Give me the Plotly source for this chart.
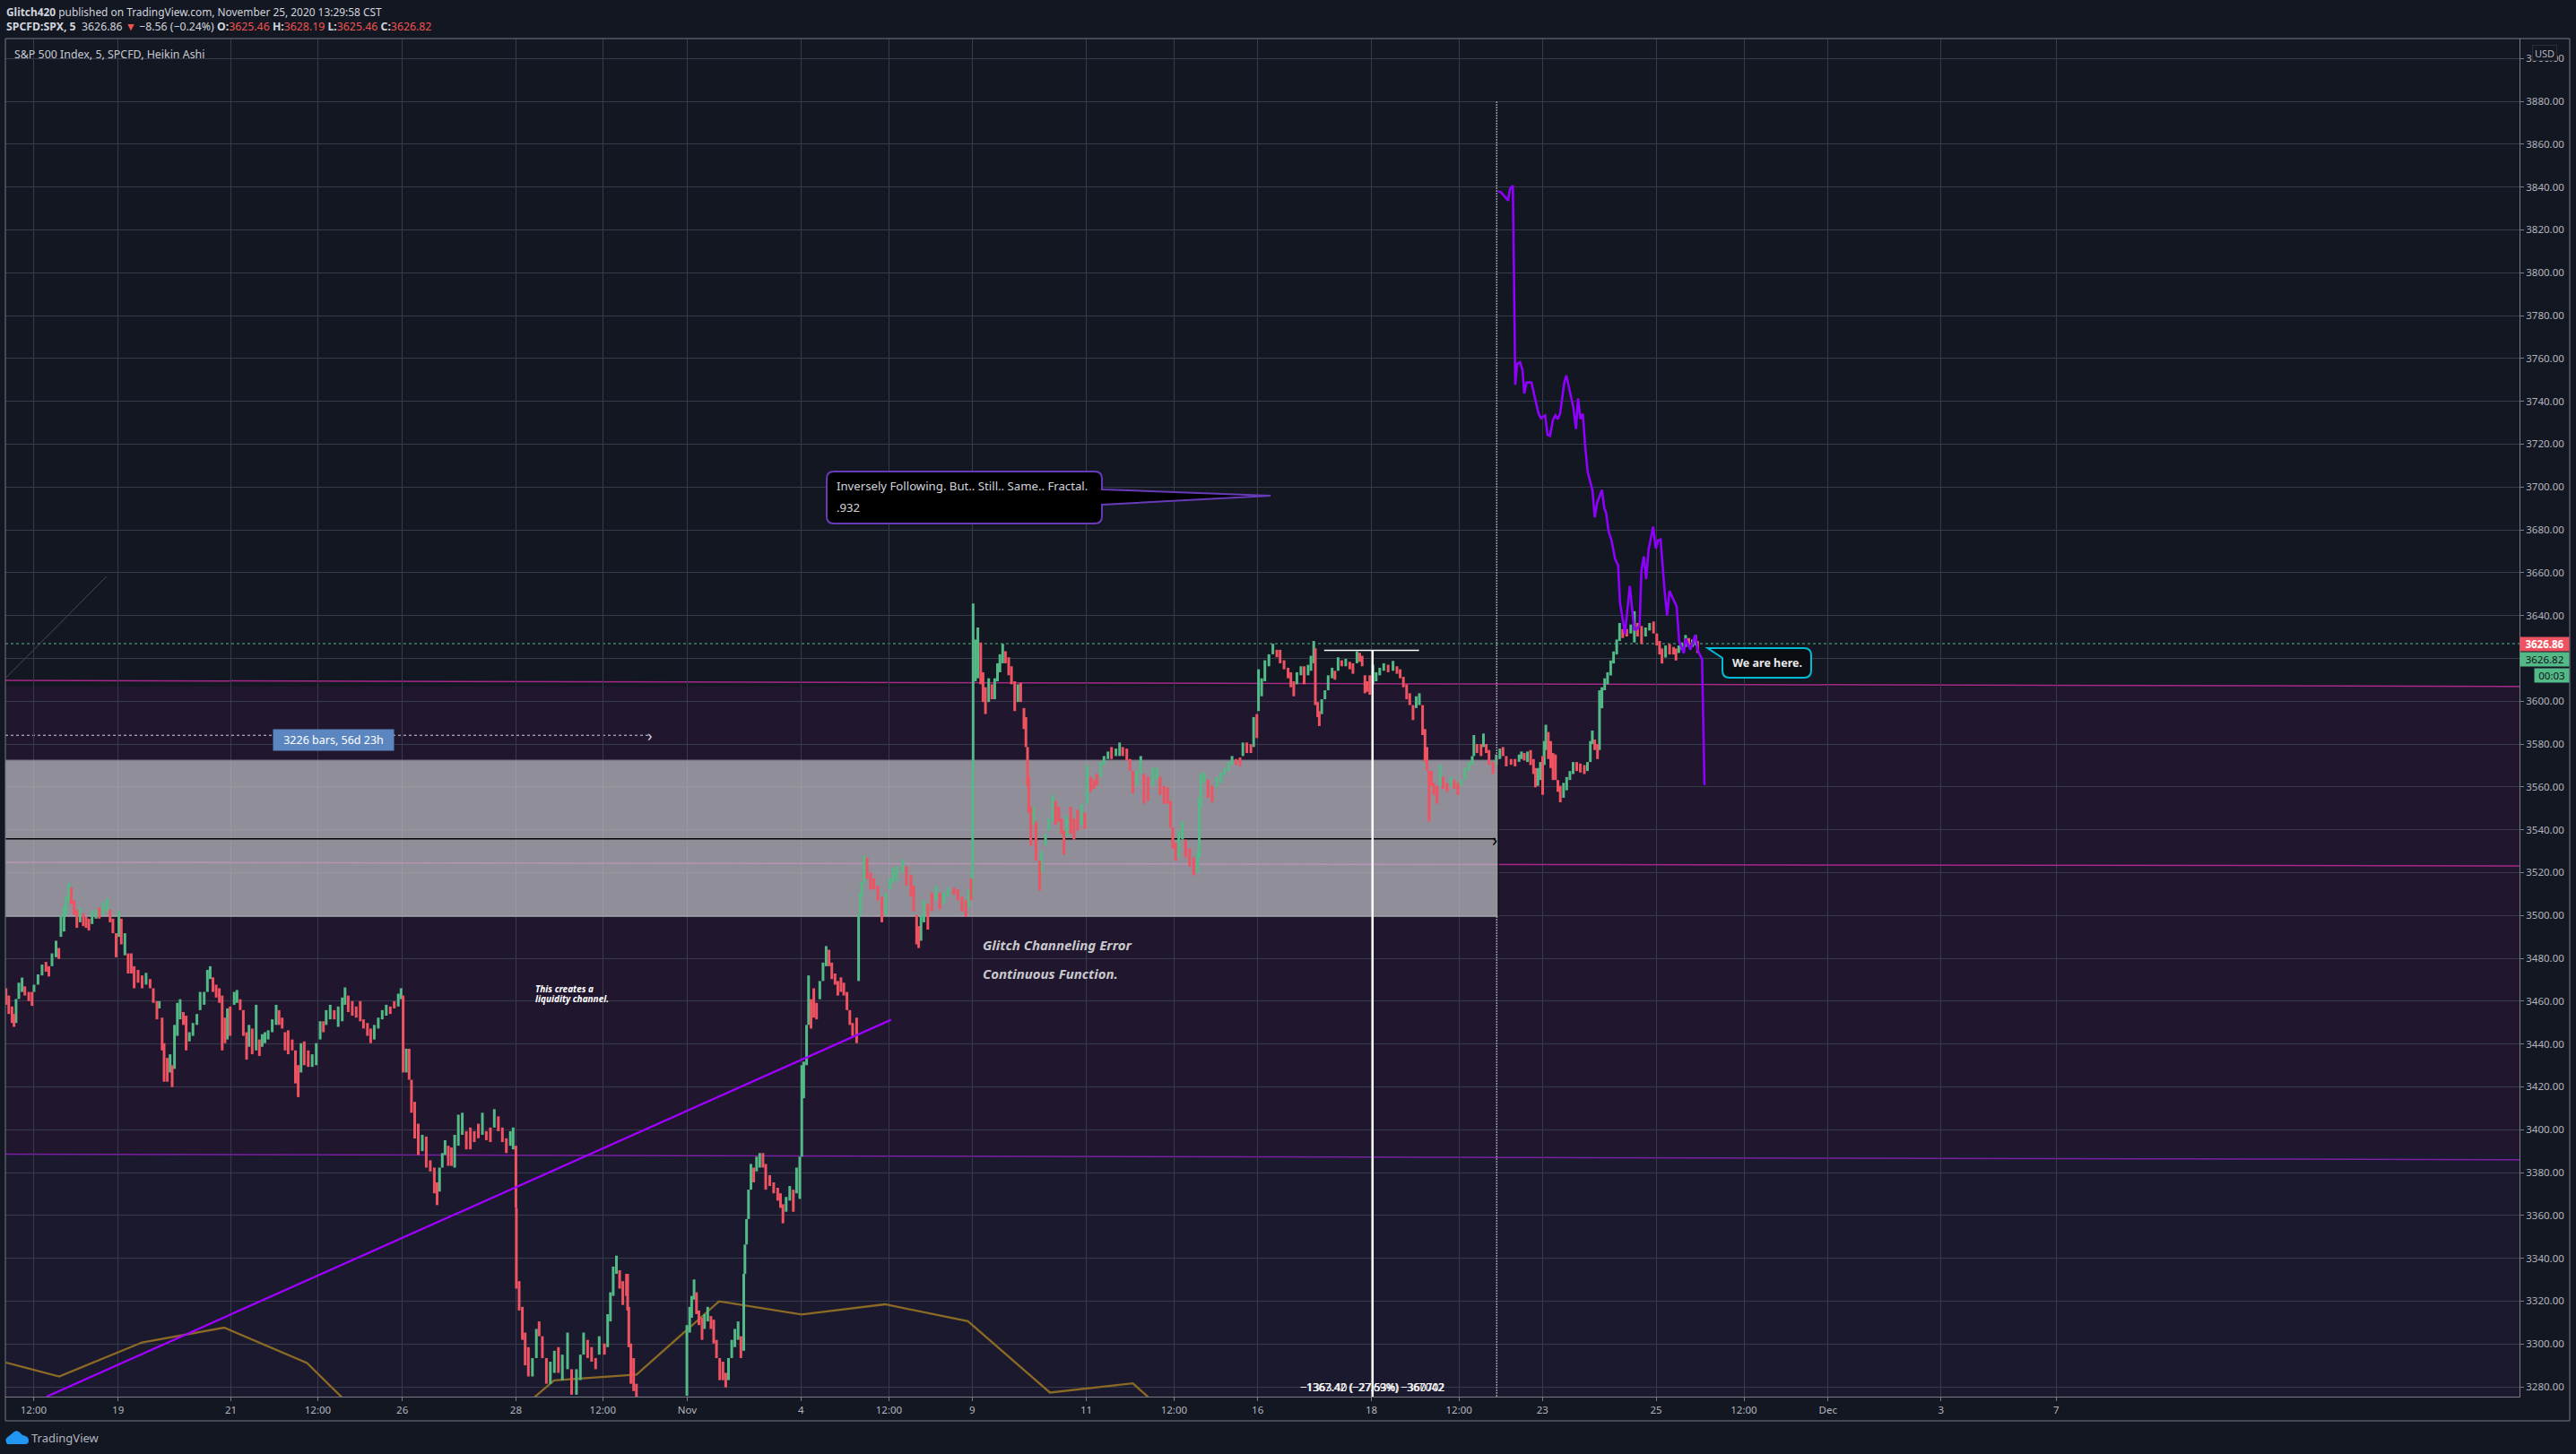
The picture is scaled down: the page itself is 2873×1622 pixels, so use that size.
import plotly.graph_objects as go

# ---- axis ticks -------------------------------------------------------
time_tick_pos = [37.5, 131.7, 257.6, 354.5, 448.7, 575.4, 672.3, 766.5, 893.3, 991.5, 1084.4, 1211.6,
                 1309.4, 1402.7, 1529.5, 1627.2, 1720.3, 1847, 1945, 2038.8, 2164.7, 2293.4]
time_tick_txt = ["12:00", "19", "21", "12:00", "26", "28", "12:00", "Nov", "4", "12:00", "9", "11",
                 "12:00", "16", "18", "12:00", "23", "25", "12:00", "Dec", "3", "7"]
price_ticks = list(range(3280, 3920, 20))

# ---- Heikin Ashi bars, October ---------------------------------------
a_pos = [6.7,9.8,13.4,15.6,17.9,21,24.6,27.7,32.1,35.7,37.9,42.4,46.9,51.3,54.5,58,62.5,65.6,67.9,71.4,
         73.7,76.8,79.5,82.6,85.7,89.3,92.9,96,99.1,102.7,107.1,110.7,115.2,119.6,122.8,125.9,129.5,132.6,135.3,139.3,
         142.9,146.4,149.6,154,158.5,162.9,167.4,171,175,177.7,180.8,183,186.6,189.7,192,194.6,197.8,200.9,204.5,207.6,
         211.2,215.2,219.6,223.2,227.7,231.3,234.4,237.5,241.1,244.6,247.8,250.9,253.6,256.7,261.2,264.3,267.9,271.4,275,277.7,
         281.3,285.7,289.3,292.4,295.5,299.1,303.6,308,311.2,314.7,317.9,321.4,325.9,329.5,332.6,335.7,339.3,343.8,348.2,352.7,
         357.1,360.7,363.8,368.3,372.8,377.2,381.7,384.8,388.4,392.9,397.3,401.8,405.4,409.8,413.4,417.4,421.9,426.3,430.8,435.3,
         439.7,444.2,447.3,449.6,453.1,456.3,458.9,462.5,466.5,471,475.4,479.9,484.4,487.5,490.2,493.3,496.4,500,503.6,507.1,
         511.2,515.6,520.1,524.6,529,533.5,538,542.4,546.9,551.3,555.8,560.3,564.7,569.2,572.3,575.4,575.9,579,582.6,585.7,
         589.3,593.8,598.2,601.3,604.9,609.4,613.8,618.3,622.8,627.2,633,637.5,642.9,647.3,650.9,655.4,659.8,664.3,668.3,674.1,
         677.7,680.8,683.9,687.5,691.1,694.6,698.7]
a_high = [3466,3462.6,3457.5,3454,3461,3468.6,3471,3466.9,3464.3,3464.3,3467.7,3472.5,3477.1,3478.3,3476.3,3482.3,3488.2,3484.8,3500.2,3504.5,
          3508.8,3515.2,3513,3507,3502.8,3503.6,3501,3499.3,3498.5,3502,3502.8,3503.6,3506.2,3507.9,3502.8,3498.5,3491.7,3502,3498.5,3491.7,
          3482.3,3482.3,3476.3,3474.6,3472,3473.2,3470.3,3466,3460,3460,3452.3,3440.4,3433.5,3435.2,3430.1,3448.9,3459.2,3460.9,3454.9,3453.2,
          3445.5,3449.8,3454,3464.3,3464.3,3474.6,3476.3,3471.1,3467.7,3466,3462.6,3452.3,3456.6,3457.5,3464.3,3465.2,3460.9,3455.8,3445.5,3448.9,
          3447.2,3458.3,3442.1,3444.6,3445.5,3446.4,3451.5,3458.3,3455.8,3452.3,3445.5,3446.4,3442.1,3437,3430.1,3440.4,3441.2,3437,3435.2,3440.4,
          3450.6,3450.6,3455.8,3458.3,3455.8,3457.5,3461.7,3466.4,3462.6,3460,3457.5,3460,3451.5,3449.8,3447.2,3448.9,3452.3,3455.8,3458.3,3457.5,
          3460,3463.5,3466,3462.6,3437.8,3437.8,3423.3,3413,3402.8,3397.6,3396.8,3385.7,3382.3,3375.4,3382.3,3389.1,3395.1,3392.5,3391.7,3397.6,
          3407,3407.9,3399.3,3401,3399.3,3402.8,3407.9,3399.3,3401,3409.6,3406.2,3401,3396,3399.3,3401,3392.5,3363.5,3329.3,3317.3,3305.3,
          3298.5,3293.4,3307,3310.5,3303.6,3293.4,3291.7,3296.8,3298.5,3295,3305.3,3288.2,3288.2,3295,3305.3,3301.9,3298.5,3293.4,3303.6,3300.2,
          3313.9,3324.1,3336.1,3341.2,3334.4,3329.3,3332.7]
a_low = [3458.3,3454,3449.8,3448,3449.8,3461,3464.3,3462.6,3460,3457.8,3464.3,3467.7,3472,3473.7,3471.5,3476.3,3480.5,3479.7,3490,3492.5,
         3500.2,3507,3505.3,3500.2,3494.2,3496.8,3495,3494.2,3493,3496,3498.5,3498.5,3500.2,3501.9,3496.8,3491.7,3480.5,3490,3486.5,3481.4,
         3472.9,3472.9,3466,3468.6,3466,3467.7,3466,3459.2,3451.5,3456.6,3437,3422.4,3422.4,3426.7,3419.9,3428.4,3443.8,3451.5,3448.9,3437,
         3441.2,3443.8,3448.9,3455.8,3458.3,3464.3,3470.3,3464.3,3461.7,3459.2,3437,3440.4,3442.1,3443.8,3458.3,3459.2,3455.8,3443.8,3432.7,3438.7,
         3435.2,3437,3434.4,3438.7,3440.4,3442.1,3445.5,3448.9,3448.9,3447.2,3437,3435.2,3437,3421.6,3415.2,3426.7,3430.1,3429.3,3429.3,3430.1,
         3442.1,3445.5,3448.9,3451.5,3451.5,3448,3450.6,3458.3,3454.9,3453.2,3452.3,3450.6,3447.2,3443.8,3440.4,3442.1,3447.2,3451.5,3453.2,3454,
         3456.6,3457.5,3460.9,3426.7,3426.7,3423.3,3407.9,3395.9,3388.2,3390,3382.3,3380.5,3370.3,3364.8,3371.1,3382.3,3388.2,3383.1,3383.1,3382.3,
         3392.5,3397.6,3390.8,3390.8,3394.2,3396,3397.6,3395.1,3394.2,3401,3399.3,3394.2,3389.1,3392.5,3390.8,3363.5,3325.8,3315.6,3301.9,3290,
         3284.8,3284.8,3293.4,3303.6,3293.4,3281.4,3281.4,3286.5,3286.5,3283.1,3288.2,3276.3,3276.3,3283.1,3295,3293.4,3291.7,3288.2,3295,3295,
         3298.5,3310.5,3322.4,3332.7,3325.8,3318.2,3322.4]
a_dir = ("rrrrgggrrr" "gggrrggrgg"
         "ggrrrgrrrg" "grggrrrgrg"
         "rrrrrgrrrg" "rrrgrgggrr"
         "gggggggrrr" "rrgrggrrrg"
         "rgrgggggrr" "rrrrrgrrgg"
         "grggrgggrr" "rrrrrggggr"
         "rggrgrrrrg" "rrrrgggrrg"
         "ggrrrrgrrg" "rrrggrrrrr"
         "rggrrrggrg" "grgggrrrgr"
         "ggggrrr")

# ---- Heikin Ashi bars, November first half ---------------------------
b_pos = [700,701.3,703.6,706.7,709.8,766.1,769.2,771.4,774.1,776.8,779.5,783,785.7,789.3,792.9,796,799.1,802.7,806.3,809.4,
         812.5,816.1,819.6,823.2,826.3,829.5,830.8,832.6,834.8,837.5,840.6,843.8,847.3,850.9,854,858.5,862.9,867.4,870.5,873.2,
         876.8,880.8,884.8,888.4,892,894.2,896.4,899.6,901.8,904.5,907.6,910.7,914.3,917.9,921.4,924.6,927.7,931.3,934.4,937.9,
         941.1,944.6,947.8,950.9,955.4,957.6,959.4,961.2,964,967,971,974.6,979,983.5,988,992.4,996,1000,1006.7,1011,
         1016,1019,1022.3,1024.6,1027.2,1030.4,1034.8,1039.3,1043.8,1048.2,1052.7,1057.1,1063.8,1068.3,1072.8,1077.2,1080.4,1083,1084.2,1084.8,
         1085.3,1087.9,1090.6,1093.8,1096.4,1099.1,1102.7,1106.3,1109.4,1112.5,1115.2,1118.3,1121.4,1125,1128.1,1131.7,1135.3,1138.4,1142,1144.2,
         1146,1147.3,1149.6,1152.7,1155.4,1159.4,1161.6,1166.1,1169.6,1174.1,1177.2,1180.8,1183.9,1186.6,1189.7,1194.2,1197.8,1201.8,1206.3,1209.8,
         1212.5,1216.5,1220.1,1223.2,1227.7,1231.3,1235.7,1239.7,1244.6,1248.7,1252.2,1256.7,1260.3,1263.4,1267.9,1272.3,1275.9,1280.4,1285.7,1290.2,
         1293.8,1298.2,1302.2,1305.4,1308,1311.2,1314.7,1318.8,1322.3,1326.8,1331.3,1335.7,1337.5,1339.3,1342.9,1347.3,1351.8,1357.1,1361.6,1366.1,
         1370.5,1374.1,1378.6,1383,1386.2,1390.6,1395.1,1398.2,1401.8]
b_high = [3332.7,3317.3,3300.2,3293.4,3281.4,3308.8,3317.3,3322.4,3330.1,3324.1,3315.6,3312.2,3313.9,3317.3,3313,3311.3,3301.9,3293.4,3291.7,3286.5,
          3293.4,3301.9,3307,3310.5,3303.6,3332.7,3346.4,3358.3,3372,3384,3382.3,3387.4,3389.1,3389.1,3384,3378.8,3375.4,3372.9,3370.3,3365.2,
          3368.6,3373.7,3372,3382.3,3387.4,3430.1,3431.8,3448.9,3472,3460.9,3466,3459.2,3469.4,3478,3485.7,3484,3478,3472.9,3469.4,3471.1,
          3468.6,3464.3,3455.8,3449.8,3452.3,3500.2,3510.5,3515.6,3528,3527,3520,3517.3,3513.9,3508.8,3510.5,3517.3,3522,3523,3526,3523,
          3519,3513.9,3500.2,3495,3500.2,3507,3505.3,3510.5,3513.9,3510.5,3510.5,3513,3513,3512.2,3508.8,3507,3512.2,3517.3,3520,3567.5,
          3645.6,3628.8,3634.4,3627.4,3613.5,3606.5,3610.7,3607.9,3610.7,3617.7,3621.9,3626.8,3623.3,3620.5,3616.3,3609.3,3607.9,3608.6,3596.8,3592.6,
          3578.6,3564.7,3550.7,3550.7,3543.8,3525.6,3529.8,3538.2,3545.2,3556.3,3553.5,3550.7,3545.2,3539.6,3546.5,3550.7,3545.2,3549.3,3552.1,3548,
          3570.3,3564.7,3563.3,3566.1,3571.7,3574.4,3576.5,3578.6,3577.9,3580.7,3578.6,3577.9,3573,3567.5,3567.5,3574.4,3566.1,3564.7,3568.9,3568.9,
          3564.7,3560.5,3559.8,3553.5,3541,3534,3539.6,3543.8,3535.4,3531.2,3527,3529.8,3554.9,3566.1,3566.8,3563.3,3560.5,3564.7,3566.8,3568.9,
          3571.7,3574.4,3573,3573.7,3580.7,3580.7,3580,3592.6,3594]
b_low = [3315.6,3298.5,3281.4,3278,3275.4,3275.8,3305.3,3312.2,3320.7,3313.9,3308.8,3301.9,3307,3310.5,3307,3300.2,3293.4,3283.1,3283.1,3279.7,
         3283.1,3293.4,3298.5,3301.9,3293.4,3296.8,3332.7,3346.4,3358.3,3372,3375.4,3380.5,3382.3,3382.3,3372,3373.7,3370.3,3366.9,3363.5,3356.3,
         3361.7,3366.9,3361.7,3370.3,3367.7,3387.4,3414.7,3430.1,3448.9,3447.2,3452.3,3451.5,3460.9,3469.4,3476.3,3476.3,3470.3,3467.7,3462.6,3464.3,
         3462.6,3455.8,3448.9,3443.8,3440.4,3469.4,3500.2,3508.8,3515,3517,3512,3512.2,3507,3496.8,3500.2,3512.2,3515,3516,3520,3514,
         3509,3501.9,3486.5,3484.8,3488.2,3496.8,3493.4,3501.9,3507,3502.8,3505.3,3508.8,3509.6,3507,3501.9,3499.4,3503.6,3507,3508.9,3520,
         3567.5,3609.3,3610.7,3607.9,3599.6,3594,3599.6,3600.9,3600.9,3609.3,3613.5,3617.7,3617.7,3612.1,3607.9,3595.4,3599.6,3599.6,3587,3578.6,
         3560.5,3548,3532.6,3542.4,3525.6,3511.7,3520,3532.6,3539.6,3543.8,3542.4,3543.8,3538.2,3528.4,3536.8,3538.2,3535.4,3539.6,3542.4,3540.3,
         3552.1,3557.7,3559.1,3560.5,3564.7,3570.3,3573,3573,3574.4,3574.4,3574.4,3572.3,3567.5,3557,3560.5,3566.1,3552.1,3553.5,3560.5,3563.3,
         3556.3,3552.1,3552.1,3541,3531.2,3525.6,3527,3535.4,3527,3522.8,3518.7,3520,3527,3550.7,3561.9,3554.9,3552.8,3559.8,3561.9,3565.4,
         3567.5,3570.3,3570.3,3569.6,3574.4,3575.8,3575.8,3578.6,3582.8]
b_dir = ("rrrrrggggr" "rrggrrrrrr"
         "ggggrggggg" "rggrrrrrrr"
         "ggrggggggr" "rrgggrrrrr"
         "rrrrrggggr" "rrrrgggggr"
         "rrrrggrrgr" "ggrrrrgrgg"
         "gggrrrgrgg" "ggrrrrgrrr"
         "rrrgrrgggg" "rrrrgrrrgr"
         "grrrgggrgg" "rrrrggrrgg"
         "rrrrrrggrr" "rggggrrggg"
         "ggrrgrrgr")

# ---- Heikin Ashi bars, November second half ---------------------------
c_pos = [1403.6,1407.1,1410.7,1415.2,1419.6,1424.1,1427.7,1432.1,1436.6,1439.7,1442.9,1446.4,1450.9,1454.5,1458.9,1462.1,1465.2,1467,1469.6,1471.4,
         1474.1,1477.7,1481.3,1485.7,1488.8,1492.4,1496.4,1500.9,1505.4,1508.9,1513.4,1516.5,1519.2,1522.3,1524.6,1527.7,1531.3,1534.8,1538.8,1543.3,
         1548.2,1553.6,1558,1561.6,1565.2,1568.8,1572.3,1575.9,1579.5,1583,1586.6,1589.3,1591.5,1593.8,1596.4,1599.1,1602.7,1606.3,1609.4,1613.8,
         1618.3,1621.9,1625.9,1629.5,1633.9,1638.4,1642,1643.8,1647.3,1651.8,1654.5,1657.6,1660.7,1665.2,1668.8,1672.8,1676.3,1679.9,1685.3,1689.7,
         1694.2,1696.9,1700,1703.6,1707.1,1710.3,1712.5,1715.2,1717.9,1720.5,1722.3,1724.1,1726.8,1729.5,1732.1,1734.8,1737.5,1740.2,1743.8,1747.3,
         1750.9,1754.5,1758.5,1762.5,1767,1770.5,1773.7,1775.9,1778.6,1781.7,1783.9,1786.6,1789.7,1792.9,1796.4,1799.6,1803.1,1806.3,1809.8,1814.3,
         1818.8,1822.8,1826.3,1830.8,1835.3,1839.7,1844.2,1847.8,1850.9,1853.6,1857.6,1862.1,1866.5,1869.2,1872.3,1875.9,1879.9,1883.5,1887.5,1891.1,
         1893.3]
c_high = [3614.9,3610.7,3619.1,3621.9,3626.8,3624,3624,3619.1,3615.6,3613.5,3609.3,3613.5,3616.3,3616.3,3617,3621.2,3628.1,3624.7,3599.6,3595.4,
          3600.9,3605.1,3612.1,3615.6,3614.2,3620.5,3619.1,3619.8,3618.4,3617.7,3623.3,3622.6,3621.2,3612.1,3609.3,3612.1,3617,3613.5,3615.6,3617.7,
          3617,3618.8,3616.3,3614.9,3611.4,3607.9,3603.7,3598.2,3602.3,3603.7,3598.2,3587,3578.6,3567.5,3567.5,3561.9,3560.5,3570.3,3564.7,3561.9,
          3564.7,3563.3,3561.9,3563.3,3568.9,3571.7,3574.4,3584.2,3580,3580,3584.9,3580,3577.2,3571.7,3575.1,3577.9,3578.6,3574.4,3573,3573,
          3575.1,3576.5,3575.8,3576.5,3577.2,3573,3568.8,3568.8,3571.6,3574.4,3581.4,3589,3585.6,3581.4,3575.8,3575.1,3563.2,3560.5,3561.9,3564.6,
          3567.4,3571.6,3571.6,3570.9,3570.2,3571.6,3581.4,3586.3,3582.1,3580,3605.1,3606.5,3610.7,3613.5,3619,3623.2,3628.8,3636.5,3633.7,3633.7,
          3635.8,3642,3636.5,3635.1,3634.4,3636.5,3637.2,3631.6,3628.1,3624.6,3626,3626.7,3625.3,3624.6,3626,3627.4,3630.9,3629.5,3628.8,3630.9,
          3628.1]
c_low = [3595.4,3602.3,3609.3,3616.3,3621.9,3620.5,3617.7,3614.9,3610.7,3606.5,3602.3,3607.9,3612.1,3607.9,3612.1,3614.2,3617.7,3598.2,3592.6,3588.4,
         3594,3600.9,3605.1,3610.7,3610,3614.2,3616.3,3616.3,3614.9,3612.8,3617.7,3618.4,3616.3,3603.7,3604.4,3603,3607.9,3609.3,3612.1,3614.2,
         3613.5,3614.2,3612.8,3610.7,3606.5,3600.9,3598.2,3591.2,3596.8,3598.2,3584.2,3571.7,3567.5,3543.8,3560.5,3556.3,3552.1,3560.5,3559.1,3557.7,
         3560.5,3559.1,3556.3,3560.5,3563.3,3567.5,3570.3,3574.4,3575.8,3574.4,3578.6,3575.8,3570.3,3566.1,3570.3,3573,3574.4,3569.6,3570.3,3569.6,
         3571.7,3573,3572.3,3571.6,3570.2,3566,3559.8,3560.5,3563.2,3556.3,3570.2,3577.2,3573,3568.8,3563.2,3563.2,3557.7,3552.8,3554.9,3558.4,
         3563.2,3566,3567.4,3566.7,3566,3567.4,3571.6,3580,3577.2,3573,3577.2,3596.7,3605.1,3607.9,3612,3617.6,3621.8,3628.1,3629.5,3630.2,
         3631.6,3627.4,3630.2,3626.7,3630.2,3633,3631.6,3626,3621.8,3617.6,3620.4,3621.8,3621.8,3619,3622.5,3623.9,3625.3,3626,3625.3,3626,
         3622.5]
c_dir = ("gggggrrrrr" "rggrgggrrr"
         "ggggrgrgrr" "grrrrrgggg"
         "rgrrrrrrgg" "rrrrrrrgrr"
         "grrgggggrr" "grrrggrrrr"
         "ggrgrrrggr" "ggrrrrrrgg"
         "ggrrrgggrr" "ggggggggrr"
         "ggrrggrrrr" "grrrgggrgg"
         "r")

# ---- projection (purple) ---------------------------------------------
proj_pos = [1670.7,1674,1682,1684,1687.3,1688.7,1690,1692,1695.3,1698,1700,1702.7,1708,1716,1718.7,1723.3,1726,1728.7,1732,1734.7,
            1737.3,1740,1744.7,1747,1750,1754.7,1757.7,1760,1762.7,1765.3,1768,1770.7,1776,1778.7,1781.3,1786.7,1789.3,1791.3,1794,1797.3,
            1801.3,1804.7,1806.7,1812.3,1817.7,1822.7,1825.3,1828.7,1830.7,1833.3,1836,1838.7,1843.7,1846.7,1849.3,1852,1856.7,1859.3,1862,1870,
            1872.7,1878,1880,1885.3,1890.7,1893.3,1898.3,1900,1901]
proj_val = [3838,3837.6,3833.7,3839.1,3840.6,3778.7,3747.7,3757.3,3758.2,3754.7,3743.6,3748.8,3748.8,3734.2,3732.1,3733.4,3724.2,3723.8,3731.3,3733.4,
            3731.7,3734.2,3748.8,3752,3746.2,3737.2,3727,3741.3,3731.7,3734.2,3718.9,3707.1,3698.6,3685.8,3692.6,3698.6,3690,3687.9,3679.4,3675.1,
            3666.4,3663.4,3646.3,3631.3,3653.8,3633.5,3633.5,3635.6,3661.2,3667.6,3657,3670.8,3681.5,3671.3,3675.1,3675.5,3650.6,3639.9,3651.4,3644.2,
            3628.1,3622.4,3629.2,3624.1,3630.9,3623.9,3619.6,3586.5,3560.9]

# ---- moving line (brown) ---------------------------------------------
ma_pos = [6.7, 66, 158.5, 250, 342.4, 379.5, 430, 540, 598, 618, 710, 802, 894, 987, 1079.5, 1171, 1263.4, 1279, 1340]
ma_val = [3291.3, 3284.8, 3300.7, 3307.6, 3291.1, 3275.8, 3255, 3255, 3275.8, 3283, 3285.7, 3319.9, 3313.7, 3318.5, 3310.6, 3277.3, 3281.6, 3275.8, 3253]

# ---- levels ----------------------------------------------------------
trend_pos, trend_val = [52, 993.8], [3275.4, 3451.3]
upper_level = [3609.7, 3606.9]
lower_level = [3524.8, 3523.1]
deep_level = [3388.6, 3386]
box_top, box_bottom = 3572.5, 3499.6
box_end = 1671
last_price = 3626.86
close_price = 3626.82
arrow_level = 3535.8
range_level = 3584.1
diag_pos, diag_val = [6.8, 118.8], [3611, 3658.2]
fib_top = 3623.7

GREEN, RED = "#53b987", "#ef5361"
BG = "#131722"
FONT = "Noto Sans"
L, R, T, B = 6, 2810, 43, 1558
YMIN, YMAX = 3275.4, 3909.3


def PX(x):
    return (x - L) / (R - L)


def PY(y):
    return (B - y) / (B - T)


def pth(*cmds):
    """Path string from pixel-based page positions (for page furniture only)."""
    out = []
    for c in cmds:
        op, nums = c[0], c[1:]
        pts = []
        for i in range(0, len(nums), 2):
            pts.append(f"{PX(nums[i]):.5f},{PY(nums[i + 1]):.5f}")
        out.append(op + " ".join(pts))
    return " ".join(out) + " Z"


bar_pos = a_pos + b_pos + c_pos
bar_high = a_high + b_high + c_high
bar_low = a_low + b_low + c_low
bar_dir = a_dir + b_dir + c_dir
assert len(bar_pos) == len(bar_high) == len(bar_low) == len(bar_dir)


def segments(flag):
    xs, ys = [], []
    for p, h, l, d in zip(bar_pos, bar_high, bar_low, bar_dir):
        if d == flag:
            xs += [p, p, None]
            ys += [l, h, None]
    return xs, ys


def line(xs, ys, color, width, dash=None):
    fig.add_trace(go.Scatter(x=xs, y=ys, mode="lines", line=dict(color=color, width=width, dash=dash), hoverinfo="skip"))


fig = go.Figure()
# lines that sit under the translucent box
line([L, R], lower_level, "#a8278a", 1.5)
# translucent box over the grid
fig.add_trace(go.Scatter(x=[L, box_end, box_end, L, L], y=[box_bottom, box_bottom, box_top, box_top, box_bottom], mode="lines",
                         fill="toself", fillcolor="rgba(193,194,198,0.70)", line=dict(width=0), hoverinfo="skip"))
line([L, box_end], [box_bottom, box_bottom], "#aeadb4", 1)
line([L, box_end], [box_top, box_top], "#6f6d78", 1)
line([box_end, box_end], [box_bottom, box_top], "#000000", 1.2)
line([L, 1668], [arrow_level, arrow_level], "#000000", 1.5)
line(ma_pos, ma_val, "#8a6a25", 2.3)
gx, gy = segments("g")
rx, ry = segments("r")
line(gx, gy, GREEN, 3)
line(rx, ry, RED, 3)
line(trend_pos, trend_val, "#a000ff", 2.3)
line(proj_pos, proj_val, "#8f00ff", 2.6)

shapes = [
    dict(type="rect", x0=L, x1=R, y0=deep_level[0], y1=upper_level[1], layer="below", line_width=0, fillcolor="rgba(128,20,128,0.12)"),
    dict(type="rect", x0=L, x1=R, y0=YMIN, y1=deep_level[0], layer="below", line_width=0, fillcolor="rgba(99,53,154,0.10)"),
    dict(type="line", x0=L, x1=R, y0=upper_level[0], y1=upper_level[1], layer="below", line=dict(color="#a8278a", width=1.5)),
    dict(type="line", x0=L, x1=R, y0=deep_level[0], y1=deep_level[1], layer="below", line=dict(color="#7b1fa2", width=1.5)),
    dict(type="line", x0=L, x1=R, y0=last_price, y1=last_price, layer="below", line=dict(color=GREEN, width=1, dash="dot")),
    dict(type="line", x0=L, x1=725, y0=range_level, y1=range_level, layer="below", line=dict(color="#d1d4dc", width=1, dash="dot")),
    dict(type="line", x0=diag_pos[0], x1=diag_pos[1], y0=diag_val[0], y1=diag_val[1], layer="below", line=dict(color="#4a4b52", width=1)),
    dict(type="line", x0=1669.3, x1=1669.3, y0=YMIN, y1=3880, line=dict(color="#9598a1", width=1.5, dash="2px,1px")),
    dict(type="line", x0=1530.8, x1=1530.8, y0=YMIN, y1=fib_top, line=dict(color="#ffffff", width=2.5)),
    dict(type="line", x0=1476.8, x1=1582.6, y0=fib_top, y1=fib_top, line=dict(color="#ffffff", width=1.5)),
    # outer frame
    dict(type="rect", xref="paper", yref="paper", x0=PX(6), x1=PX(2866), y0=PY(1585), y1=PY(43), line=dict(color="#787b86", width=1), layer="above"),
    # callouts
    dict(type="path", xref="paper", yref="paper",
         path=pth(("M", 930, 526), ("L", 1221, 526), ("Q", 1229, 526, 1229, 534), ("L", 1229, 546), ("L", 1417, 553), ("L", 1229, 563),
                  ("L", 1229, 576), ("Q", 1229, 584, 1221, 584), ("L", 930, 584), ("Q", 922, 584, 922, 576), ("L", 922, 534), ("Q", 922, 526, 930, 526)),
         fillcolor="#000000", line=dict(color="#673ab7", width=2)),
    dict(type="path", xref="paper", yref="paper",
         path=pth(("M", 1904.5, 723), ("L", 2012, 723), ("Q", 2020, 723, 2020, 731), ("L", 2020, 748), ("Q", 2020, 756, 2012, 756),
                  ("L", 1929, 756), ("Q", 1921, 756, 1921, 748), ("L", 1921, 734)),
         fillcolor="#0a0d12", line=dict(color="#00bcd4", width=2)),
    # TradingView logo
    dict(type="path", xref="paper", yref="paper",
         path=pth(("M", 8, 1611), ("Q", 4, 1605, 10, 1602), ("L", 16, 1597), ("Q", 19, 1595, 22, 1598), ("L", 25, 1601),
                  ("Q", 32, 1602, 32, 1607), ("Q", 32, 1611, 28, 1611)),
         fillcolor="#2196f3", line_width=0),
]

ann = []


def text(x, y, s, size=12, color="#d1d4dc", anchor="left", **kw):
    ann.append(dict(xref="paper", yref="paper", x=PX(x), y=PY(y), text=s, showarrow=False, xanchor=anchor, yanchor="middle",
                    font=dict(family=FONT, size=size, color=color), align=anchor if anchor != "middle" else "center", **kw))


text(5, 12.5, '<b>Glitch420</b> published on TradingView.com, November 25, 2020 13:29:58 CST', 11.9, "#d1d4dc")
text(5, 30, '<b>SPCFD:SPX, 5</b>  3626.86 <span style="color:#ef5350">▼</span> −8.56 (−0.24%) '
            '<b>O:</b><span style="color:#ef5350">3625.46</span> <b>H:</b><span style="color:#ef5350">3628.19</span> '
            '<b>L:</b><span style="color:#ef5350">3625.46</span> <b>C:</b><span style="color:#ef5350">3626.82</span>', 12.3, "#d1d4dc")
text(14, 60.5, "S&P 500 Index, 5, SPCFD, Heikin Ashi", 12.4, "#c8cad2")
text(931, 542, "Inversely Following. But.. Still.. Same.. Fractal.", 13.2, "#d1d4dc")
text(931, 566, ".932", 13.2, "#d1d4dc")
text(1970.5, 739, "<b>We are here.</b>", 12.5, "#e8e8ec", anchor="center")
text(1094, 1054, "<b><i>Glitch Channeling Error</i></b>", 15, "#c8c8cc")
text(1094, 1086, "<b><i>Continuous Function.</i></b>", 15, "#c8c8cc")
text(595, 1103, "<b><i>This creates a</i></b>", 10, "#ffffff")
text(595, 1114, "<b><i>liquidity channel.</i></b>", 10, "#ffffff")
text(1530, 1547, "−1367.42 (−27.69%) −367042", 12, "#ffffff", anchor="center")
text(1531, 1547, "−1363.40 (−27.53%) −360702", 12, "#ffffff", anchor="center")
text(33, 1604, "TradingView", 13, "#b2b5be")
text(1662, 936, "›", 20, "#000000")
text(720, 820, "›", 18, "#d1d4dc")

ann.append(dict(xref="paper", yref="paper", x=PX(372), y=PY(825.5), xanchor="center", yanchor="middle", text="3226 bars, 56d 23h", showarrow=False,
                font=dict(family=FONT, size=12.5, color="#ffffff"), bgcolor="#5b86c0", width=134, height=23, borderpad=0))
ann.append(dict(xref="paper", yref="paper", x=PX(2838), y=PY(59), xanchor="center", yanchor="middle", text="USD", showarrow=False,
                font=dict(family=FONT, size=11, color="#b2b5be"), bgcolor=BG, bordercolor="#2a2e39", borderwidth=1, width=26, height=16, borderpad=0))
for yval, shift, lab, bgc, col, xl, w in [
    (last_price, 0, "<b>3626.86</b>", RED, "#ffffff", 2810, 54),
    (last_price, -17, "3626.82", GREEN, "#10131a", 2810, 54),
    (last_price, -35, "00:03", GREEN, "#10131a", 2826, 38),
]:
    ann.append(dict(xref="paper", yref="y", x=PX(xl), y=yval, yshift=shift, xanchor="left", yanchor="middle", text=lab, showarrow=False,
                    font=dict(family=FONT, size=11.5, color=col), bgcolor=bgc, width=w, height=15, borderpad=0))

fig.update_layout(
    width=2873, height=1622, autosize=False, showlegend=False,
    margin=dict(l=L, r=2873 - R, t=T, b=1622 - B, pad=0),
    paper_bgcolor=BG, plot_bgcolor=BG,
    shapes=shapes, annotations=ann,
    xaxis=dict(range=[L, R], tickmode="array", tickvals=time_tick_pos, ticktext=time_tick_txt, showgrid=True, gridcolor="#363a4a", gridwidth=1,
               zeroline=False, showline=True, linecolor="#787b86", linewidth=1, ticks="outside", ticklen=4, tickcolor="#787b86",
               tickfont=dict(family=FONT, size=11.5, color="#b2b5be")),
    yaxis=dict(range=[YMIN, YMAX], side="right", tickmode="array", tickvals=price_ticks, tickformat=".2f", showgrid=True, gridcolor="#363a4a", gridwidth=1,
               zeroline=False, showline=True, linecolor="#787b86", linewidth=1, ticks="outside", ticklen=4, tickcolor="#787b86",
               tickfont=dict(family=FONT, size=11.5, color="#b2b5be")),
)
fig.write_html("out.html", config=dict(displayModeBar=False),
               post_script="document.body.style.margin='0';document.body.style.overflow='hidden';")
